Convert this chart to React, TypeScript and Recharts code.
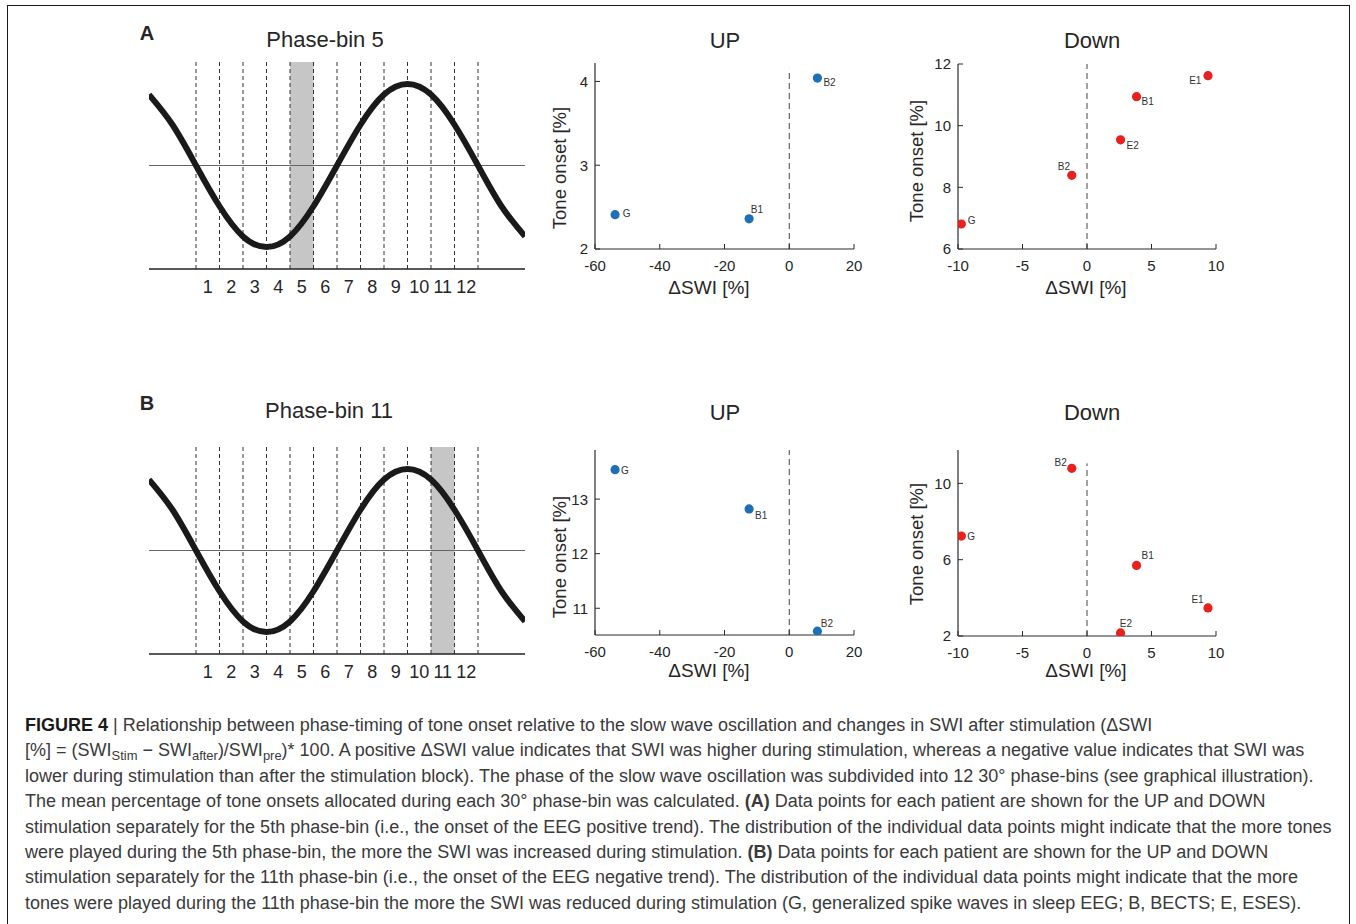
import React from 'react'
import {
  ComposedChart,
  Line,
  XAxis,
  YAxis,
  ReferenceLine,
  ReferenceArea,
  ScatterChart,
  Scatter,
} from 'recharts'

const FONT = '"Liberation Sans", Arial, Helvetica, sans-serif'
const INK = '#262626'
const AXIS = '#2b2b2b'
const BLUE = '#1F6FB6'
const RED = '#E8211F'

// ── slow wave schematic (phase in degrees, normalised amplitude) ─────────
const PHASE_DEG = [-60, -30, 0, 30, 60, 90, 120, 150, 180, 210, 240, 270, 300, 330, 360, 390, 420]
const WAVE_AMP = [0.87, 0.5, 0, -0.5, -0.87, -1, -0.87, -0.5, 0, 0.5, 0.87, 1, 0.87, 0.5, 0, -0.5, -0.87]
const BIN_EDGES = [0, 30, 60, 90, 120, 150, 180, 210, 240, 270, 300, 330, 360]
const BIN_CENTRES = [15, 45, 75, 105, 135, 165, 195, 225, 255, 285, 315, 345]
const BIN_LABELS = ['1', '2', '3', '4', '5', '6', '7', '8', '9', '10', '11', '12']

// ── patients and ΔSWI [%] ────────────────────────────────────────────────
const PATIENTS_UP = ['G', 'B1', 'B2']
const PATIENTS_DOWN = ['G', 'B2', 'E2', 'B1', 'E1']
const UP_SWI = [-53.8, -12.4, 8.7]
const DOWN_SWI = [-9.74, -1.18, 2.6, 3.84, 9.38]

// tone onset [%]
const BIN5_UP_ONSET = [2.41, 2.36, 4.04]
const BIN5_DOWN_ONSET = [6.81, 8.39, 9.54, 10.94, 11.62]
const BIN11_UP_ONSET = [13.54, 12.82, 10.58]
const BIN11_DOWN_ONSET = [7.24, 10.79, 2.16, 5.7, 3.47]

// ticks
const UP_X_TICKS = [-60, -40, -20, 0, 20]
const DOWN_X_TICKS = [-10, -5, 0, 5, 10]
const BIN5_UP_Y_TICKS = [2, 3, 4]
const BIN5_DOWN_Y_TICKS = [6, 8, 10, 12]
const BIN11_UP_Y_TICKS = [11, 12, 13]
const BIN11_DOWN_Y_TICKS = [2, 6, 10]

// point label placement: [dx, dy, anchor]
type LabelPos = Record<string, [number, number, 'start' | 'end']>
const LBL_UP_A: LabelPos = { G: [7.7, -1.6, 'start'], B1: [1.7, -9.4, 'start'], B2: [6, 4.4, 'start'] }
const LBL_DOWN_A: LabelPos = {
  G: [6.3, -3.3, 'start'], B2: [-1.7, -8.6, 'end'], E2: [6, 5.3, 'start'], B1: [5, 4.3, 'start'], E1: [-6.6, 5, 'end'],
}
const LBL_UP_B: LabelPos = { G: [6, 0.6, 'start'], B1: [6, 6, 'start'], B2: [3.4, -7.7, 'start'] }
const LBL_DOWN_B: LabelPos = {
  G: [6, 0, 'start'], B2: [-5, -5.6, 'end'], B1: [5, -9.7, 'start'], E1: [-4.3, -8.7, 'end'], E2: [-0.7, -10, 'start'],
}

const X_GAP = 11
const Y_GAP = 7
const AX_W = 40 // y axis band
const AX_H = 30 // x axis band

const XTick = (props: any) => {
  const { x, y, payload } = props
  const axisY = y - X_GAP
  return (
    <g>
      <line x1={x} x2={x} y1={axisY} y2={axisY - 5} stroke={AXIS} strokeWidth={1} />
      <text x={x} y={y} dy="0.72em" textAnchor="middle" fontSize={15} fill={INK} fontFamily={FONT}>
        {payload.value}
      </text>
    </g>
  )
}

const YTick = (props: any) => {
  const { x, y, payload } = props
  const axisX = x + Y_GAP
  return (
    <g>
      <line x1={axisX} x2={axisX + 5} y1={y} y2={y} stroke={AXIS} strokeWidth={1} />
      <text x={x} y={y} dy="0.36em" textAnchor="end" fontSize={15} fill={INK} fontFamily={FONT}>
        {payload.value}
      </text>
    </g>
  )
}

// ── text helpers ──────────────────────────────────────────────────────────

function Txt({ x, y, size, children, bold, rotate }: any) {
  return (
    <div
      style={{
        position: 'absolute',
        left: x,
        top: y,
        transform: `translate(-50%, -50%)${rotate ? ' rotate(-90deg)' : ''}`,
        fontSize: size,
        fontWeight: bold ? 700 : 400,
        color: INK,
        whiteSpace: 'nowrap',
        lineHeight: 1,
        fontFamily: FONT,
      }}
    >
      {children}
    </div>
  )
}

// ── phase-bin schematic ──────────────────────────────────────────────────

function PhasePanel({ top, bin }: { top: number; bin: number }) {
  const data = PHASE_DEG.map((deg, i) => ({ deg, amp: WAVE_AMP[i] }))
  return (
    <div style={{ position: 'absolute', left: 130, top, width: 420, height: 300 }}>
      <ComposedChart
        width={420}
        height={300}
        data={data}
        margin={{ top: 42, right: 25, bottom: 51 - AX_H, left: 19 }}
      >
        <XAxis
          dataKey="deg"
          type="number"
          domain={[-60, 420]}
          allowDataOverflow
          ticks={BIN_CENTRES}
          interval={0}
          tickFormatter={(v) => BIN_LABELS[BIN_CENTRES.indexOf(v)]}
          tick={{ fill: INK, fontSize: 18, fontFamily: FONT }}
          axisLine={{ stroke: '#222', strokeWidth: 1.3 }}
          tickLine={false}
          tickSize={0}
          tickMargin={11}
          height={AX_H}
        />
        <YAxis type="number" domain={[-1.27, 1.27]} allowDataOverflow hide />
        <ReferenceArea
          x1={BIN_EDGES[bin - 1]}
          x2={BIN_EDGES[bin]}
          fill="#c6c6c6"
          fillOpacity={1}
          stroke="none"
        />
        {BIN_EDGES.map((e) => (
          <ReferenceLine key={e} x={e} stroke="#333" strokeWidth={1} strokeDasharray="4 3" />
        ))}
        <ReferenceLine y={0} stroke="#666" strokeWidth={1} />
        <Line
          dataKey="amp"
          type="natural"
          stroke="#1a1a1a"
          strokeWidth={6}
          dot={false}
          isAnimationActive={false}
        />
      </ComposedChart>
    </div>
  )
}

// ── scatter panel ─────────────────────────────────────────────────────────

interface ScatterPanelProps {
  left: number
  top: number
  width: number
  height: number
  plot: { top: number; right: number; bottom: number; left: number }
  names: string[]
  xs: number[]
  ys: number[]
  xDomain: [number, number]
  xTicks: number[]
  yDomain: [number, number]
  yTicks: number[]
  zeroTop: number
  color: string
  labels: LabelPos
}

function ScatterPanel(p: ScatterPanelProps) {
  const data = p.names.map((name, i) => ({ name, swi: p.xs[i], onset: p.ys[i] }))
  const shape = (s: any) => {
    const [dx, dy, anchor] = p.labels[s.payload.name]
    return (
      <g>
        <circle cx={s.cx} cy={s.cy} r={4.6} fill={p.color} />
        <text
          x={s.cx + dx}
          y={s.cy + dy}
          dy="0.36em"
          textAnchor={anchor}
          fontSize={10}
          fill="#333"
          fontFamily={FONT}
        >
          {s.payload.name}
        </text>
      </g>
    )
  }
  const margin = {
    top: p.plot.top,
    right: p.plot.right,
    bottom: p.plot.bottom - AX_H,
    left: p.plot.left - AX_W,
  }
  return (
    <div style={{ position: 'absolute', left: p.left, top: p.top, width: p.width, height: p.height }}>
      <ScatterChart width={p.width} height={p.height} margin={margin}>
        <XAxis
          dataKey="swi"
          type="number"
          domain={p.xDomain}
          allowDataOverflow
          ticks={p.xTicks}
          interval={0}
          tick={<XTick />}
          axisLine={{ stroke: AXIS, strokeWidth: 1.2 }}
          tickLine={false}
          tickSize={0}
          tickMargin={X_GAP}
          height={AX_H}
        />
        <YAxis
          dataKey="onset"
          type="number"
          domain={p.yDomain}
          allowDataOverflow
          ticks={p.yTicks}
          interval={0}
          tick={<YTick />}
          axisLine={{ stroke: AXIS, strokeWidth: 1.2 }}
          tickLine={false}
          tickSize={0}
          tickMargin={Y_GAP}
          width={AX_W}
        />
        <ReferenceLine
          segment={[
            { x: 0, y: p.yDomain[0] },
            { x: 0, y: p.zeroTop },
          ]}
          stroke="#444"
          strokeWidth={1}
          strokeDasharray="6 4"
        />
        <Scatter data={data} shape={shape} isAnimationActive={false} />
      </ScatterChart>
    </div>
  )
}

// ── caption ──────────────────────────────────────────────────────────────

const sub = { fontSize: '0.72em', verticalAlign: '-0.28em', lineHeight: 0 }

function Caption() {
  const line = { height: 25.4, lineHeight: '25.4px', whiteSpace: 'nowrap' as const }
  return (
    <div
      style={{
        position: 'absolute',
        left: 25,
        top: 713,
        fontFamily: FONT,
        fontSize: 18,
        color: '#3a3a3a',
      }}
    >
      <div style={line}>
        <b style={{ color: '#1a1a1a' }}>FIGURE 4</b> | Relationship between phase-timing of tone onset relative to the
        slow wave oscillation and changes in SWI after stimulation (ΔSWI
      </div>
      <div style={line}>
        [%] = (SWI<span style={sub}>Stim</span> − SWI<span style={sub}>after</span>)/SWI<span style={sub}>pre</span>)*
        100. A positive ΔSWI value indicates that SWI was higher during stimulation, whereas a negative value indicates
        that SWI was
      </div>
      <div style={line}>
        lower during stimulation than after the stimulation block). The phase of the slow wave oscillation was
        subdivided into 12 30° phase-bins (see graphical illustration).
      </div>
      <div style={line}>
        The mean percentage of tone onsets allocated during each 30° phase-bin was calculated. <b>(A)</b> Data points
        for each patient are shown for the UP and DOWN
      </div>
      <div style={line}>
        stimulation separately for the 5th phase-bin (i.e., the onset of the EEG positive trend). The distribution of
        the individual data points might indicate that the more tones
      </div>
      <div style={line}>
        were played during the 5th phase-bin, the more the SWI was increased during stimulation. <b>(B)</b> Data points
        for each patient are shown for the UP and DOWN
      </div>
      <div style={line}>
        stimulation separately for the 11th phase-bin (i.e., the onset of the EEG negative trend). The distribution of
        the individual data points might indicate that the more
      </div>
      <div style={line}>
        tones were played during the 11th phase-bin the more the SWI was reduced during stimulation (G, generalized
        spike waves in sleep EEG; B, BECTS; E, ESES).
      </div>
    </div>
  )
}

export default function App() {
  return (
    <div
      style={{
        position: 'absolute',
        left: 0,
        top: 0,
        width: 1356,
        height: 924,
        overflow: 'hidden',
        background: '#fff',
        fontFamily: FONT,
      }}
    >
      <div
        style={{
          position: 'absolute',
          left: 7,
          top: 5,
          width: 1341,
          height: 960,
          border: '1.5px solid #1a1a1a',
        }}
      />

      {/* row A */}
      <Txt x={147} y={33} size={20} bold>A</Txt>
      <Txt x={325} y={40} size={22}>Phase-bin 5</Txt>
      <Txt x={725} y={41} size={22}>UP</Txt>
      <Txt x={1092} y={41} size={22}>Down</Txt>
      <PhasePanel top={20} bin={5} />
      <ScatterPanel
        left={540}
        top={20}
        width={340}
        height={300}
        plot={{ top: 43, right: 26, bottom: 71, left: 55 }}
        names={PATIENTS_UP}
        xs={UP_SWI}
        ys={BIN5_UP_ONSET}
        xDomain={[-60, 20]}
        xTicks={UP_X_TICKS}
        yDomain={[2, 4.22]}
        yTicks={BIN5_UP_Y_TICKS}
        zeroTop={4.15}
        color={BLUE}
        labels={LBL_UP_A}
      />
      <ScatterPanel
        left={890}
        top={20}
        width={350}
        height={300}
        plot={{ top: 44, right: 24, bottom: 71, left: 68 }}
        names={PATIENTS_DOWN}
        xs={DOWN_SWI}
        ys={BIN5_DOWN_ONSET}
        xDomain={[-10, 10]}
        xTicks={DOWN_X_TICKS}
        yDomain={[6, 12]}
        yTicks={BIN5_DOWN_Y_TICKS}
        zeroTop={12}
        color={RED}
        labels={LBL_DOWN_A}
      />
      <Txt x={709} y={287} size={19}>ΔSWI [%]</Txt>
      <Txt x={1086} y={287} size={19}>ΔSWI [%]</Txt>
      <Txt x={560} y={168} size={18.5} rotate>Tone onset [%]</Txt>
      <Txt x={917} y={161} size={18.5} rotate>Tone onset [%]</Txt>

      {/* row B */}
      <Txt x={147} y={403} size={20} bold>B</Txt>
      <Txt x={329} y={411} size={22}>Phase-bin 11</Txt>
      <Txt x={725} y={413} size={22}>UP</Txt>
      <Txt x={1092} y={413} size={22}>Down</Txt>
      <PhasePanel top={405} bin={11} />
      <ScatterPanel
        left={540}
        top={395}
        width={340}
        height={300}
        plot={{ top: 55, right: 26, bottom: 60, left: 55 }}
        names={PATIENTS_UP}
        xs={UP_SWI}
        ys={BIN11_UP_ONSET}
        xDomain={[-60, 20]}
        xTicks={UP_X_TICKS}
        yDomain={[10.51, 13.9]}
        yTicks={BIN11_UP_Y_TICKS}
        zeroTop={13.9}
        color={BLUE}
        labels={LBL_UP_B}
      />
      <ScatterPanel
        left={890}
        top={395}
        width={350}
        height={300}
        plot={{ top: 55, right: 24, bottom: 59, left: 68 }}
        names={PATIENTS_DOWN}
        xs={DOWN_SWI}
        ys={BIN11_DOWN_ONSET}
        xDomain={[-10, 10]}
        xTicks={DOWN_X_TICKS}
        yDomain={[2, 11.75]}
        yTicks={BIN11_DOWN_Y_TICKS}
        zeroTop={11.05}
        color={RED}
        labels={LBL_DOWN_B}
      />
      <Txt x={709} y={670} size={19}>ΔSWI [%]</Txt>
      <Txt x={1086} y={670} size={19}>ΔSWI [%]</Txt>
      <Txt x={560} y={557} size={18.5} rotate>Tone onset [%]</Txt>
      <Txt x={917} y={544} size={18.5} rotate>Tone onset [%]</Txt>

      <Caption />
    </div>
  )
}
